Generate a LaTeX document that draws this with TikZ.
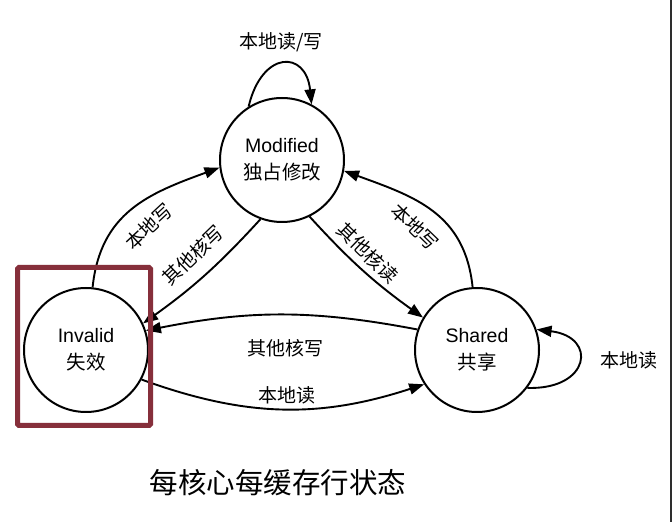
\documentclass[tikz,border=0pt]{standalone}
\usepackage{fontspec}
\setmainfont{Liberation Sans}
\newfontfamily\cjk{Noto Sans CJK SC}
\usetikzlibrary{arrows.meta}
\definecolor{boxred}{RGB}{134,47,59}
\begin{document}
\begin{tikzpicture}[x=1pt,y=1pt,
  state/.style={circle,draw,line width=2pt,minimum size=124pt,inner sep=0pt,align=center,font=\fontsize{19.5}{27}\selectfont},
  edge/.style={line width=1.9pt,-{Triangle[length=15pt,width=11pt]}},
  lbl/.style={font=\cjk\fontsize{19}{22}\selectfont,inner sep=1pt}]
\useasboundingbox (0,0) rectangle (672,522);
\fill[white] (0,0) rectangle (672,522);
\fill[black!82] (669.5,0) rectangle (672,522);

\node[state] (M) at (282,362) {Modified\\{\cjk 独占修改}};
\node[state] (I) at (86,172) {Invalid\\{\cjk 失效}};
\node[state] (S) at (477,172) {Shared\\{\cjk 共享}};

% self loop Modified
\draw[edge] (M.122) .. controls (262,472) and (306,472) .. (M.62);
\node[lbl] (lMM) at (281,480) {本地读/写};

% Invalid -> Modified
\draw[edge] (I.84) to[out=84,in=200,looseness=1.1] (M.187);
\node[lbl,rotate=43] (lIM) at (149,295) {本地写};

% Modified -> Invalid
\draw[edge] (M.250) to[bend left=6] (I.25);
\node[lbl,rotate=44] (lMI) at (193,267) {其他核写};

% Shared -> Modified
\draw[edge] (S.94) to[out=96,in=340,looseness=1.1] (M.350);
\node[lbl,rotate=-44] (lSM) at (415,295) {本地写};

% Modified -> Shared
\draw[edge] (M.296) to[bend right=6] (S.149);
\node[lbl,rotate=-44] (lMS) at (368,269) {其他核读};

% Shared -> Invalid
\draw[edge] (S.161) to[bend right=11] (I.18);
\node[lbl] (lSI) at (285,174) {其他核写};

% Invalid -> Shared
\draw[edge] (I.332) to[bend right=19] (S.213);
\node[lbl] (lIS) at (287,127) {本地读};

% self loop Shared
\draw[edge] (S.323) .. controls (590,132) and (598,185) .. (S.19);
\node[lbl] (lSS) at (629,162) {本地读};

% highlight box
\draw[line width=5pt,draw=boxred,rounded corners=1.5pt] (17.5,96.5) rectangle (150.5,254.5);

% title
\node[font=\cjk\fontsize{28.5}{32}\selectfont] (title) at (278,39) {每核心每缓存行状态};
\end{tikzpicture}
\end{document}
